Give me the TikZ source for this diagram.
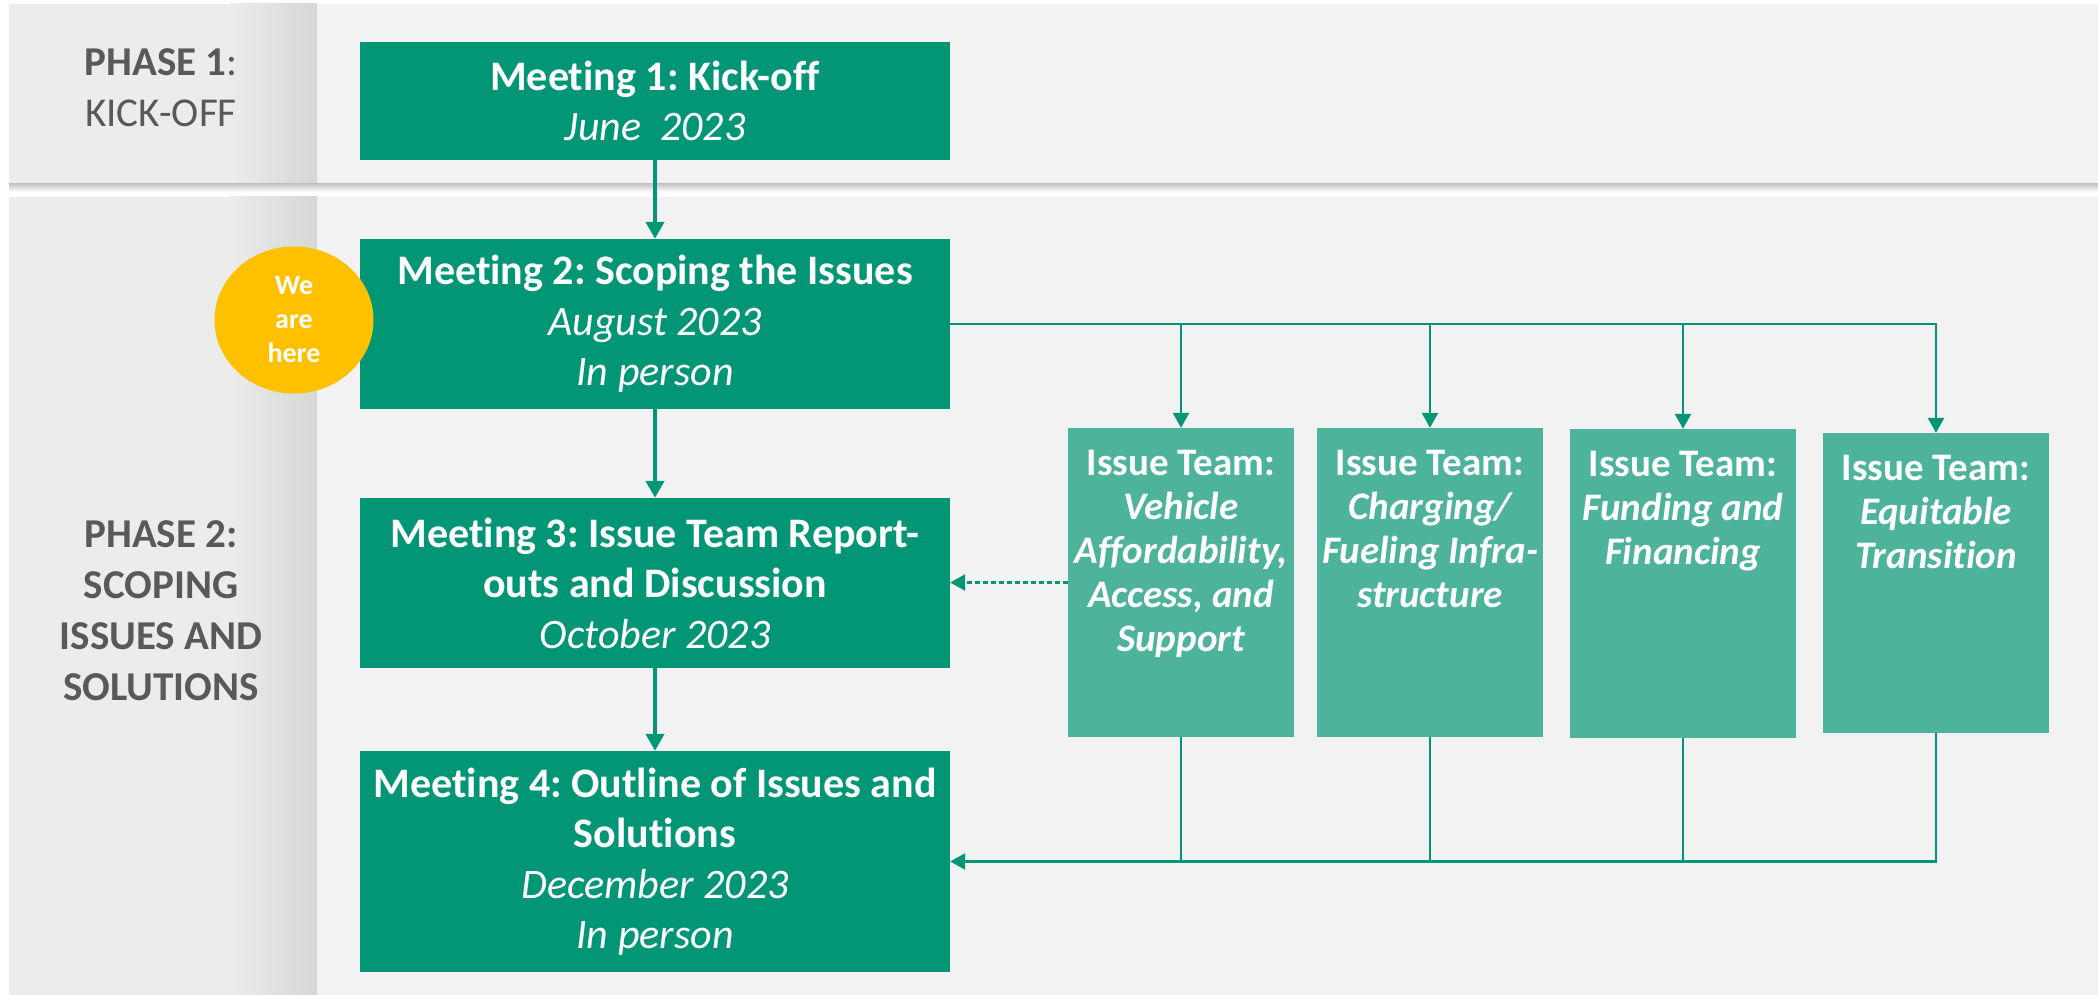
\documentclass[tikz,border=0pt]{standalone}
\usepackage{fontspec}
\setmainfont{Carlito}[Ligatures=NoCommon]
\frenchspacing
\usetikzlibrary{arrows.meta,shapes.geometric}
\definecolor{meetc}{HTML}{039676}
\definecolor{issuec}{HTML}{4DB39B}
\definecolor{herec}{HTML}{FFC000}
\definecolor{bandc}{HTML}{F2F2F2}
\definecolor{sidec}{HTML}{ECECEC}
\definecolor{sidee}{HTML}{D6D6D6}
\definecolor{phasec}{HTML}{595959}
\tikzset{
  meet/.style={fill=meetc, text=white, minimum width=590pt, align=center, inner sep=0pt,
    font=\fontsize{42}{50.5}\selectfont\frenchspacing},
  issue/.style={fill=issuec, minimum width=226pt, inner sep=0pt},
  issuetxt/.style={text=white, align=center, inner sep=0pt, anchor=north,
    font=\fontsize{39}{44}\selectfont\bfseries\frenchspacing},
  phase/.style={text=phasec, align=center, inner sep=0pt,
    font=\fontsize{41}{51}\selectfont\frenchspacing},
  herebox/.style={ellipse, fill=herec, text=white, minimum width=159pt, minimum height=147pt,
    inner sep=0pt, align=center, font=\fontsize{28}{34}\selectfont\bfseries},
  bigflow/.style={draw=meetc, line width=4.5pt, -{Triangle[length=17pt,width=18pt]}},
  flow/.style={draw=meetc, line width=2.5pt, -{Triangle[length=15pt,width=16pt]}},
  link/.style={draw=meetc, line width=2.5pt},
  dashflow/.style={draw=meetc, line width=2.5pt, dash pattern=on 5pt off 3pt,
    -{Triangle[length=15pt,width=16pt]}}
}
\begin{document}
\begin{tikzpicture}[x=1pt,y=-1pt]
\useasboundingbox (0,0) rectangle (2098,995);
\fill[white] (0,0) rectangle (2098,995);
% phase 1 band
\shade[top color=black!25, bottom color=white] (9,183) rectangle (2098,192);
\fill[bandc] (9,4) rectangle (2098,183);
\fill[sidec] (9,4) rectangle (317,183);
\shade[left color=sidec, right color=sidee] (230,4) rectangle (317,183);
% phase 2 band
\fill[bandc] (9,197) rectangle (2098,995);
\fill[sidec] (9,197) rectangle (317,995);
\shade[left color=sidec, right color=sidee] (230,197) rectangle (317,995);

% phase labels
\node[phase] (p1) at (161,88) {\textbf{PHASE 1}:\\KICK-OFF};
\node[phase, font=\fontsize{41}{51}\selectfont\bfseries] (p2) at (161,611) {PHASE 2:\\SCOPING\\ISSUES AND\\SOLUTIONS};

% meetings
\node[meet, minimum height=118pt] (m1) at (655,101) {\textbf{Meeting 1: Kick-off}\\\textit{June\ \ 2023}};
\node[meet, minimum height=170pt] (m2) at (655,324) {\textbf{Meeting 2: Scoping the Issues}\\\textit{August 2023}\\\textit{In person}};
\node[meet, minimum height=170pt] (m3) at (655,583) {\textbf{Meeting 3: Issue Team Report-}\\\textbf{outs and Discussion}\\\textit{October 2023}};
\node[meet, minimum height=221pt] (m4) at (655,861.5) {\textbf{Meeting 4: Outline of Issues and}\\\textbf{Solutions}\\\textit{December 2023}\\\textit{In person}};

% issue teams
\node[issue, minimum height=309pt] (i1) at (1181,582.5) {};
\node[issue, minimum height=309pt] (i2) at (1430,582.5) {};
\node[issue, minimum height=309pt] (i3) at (1683,583.5) {};
\node[issue, minimum height=300pt] (i4) at (1936,583) {};
\node[issuetxt] (i1t) at ([yshift=-22pt]i1.north) {Issue Team:\\\itshape Vehicle\\\itshape Affordability,\\\itshape Access, and\\\itshape Support};
\node[issuetxt] (i2t) at ([yshift=-22pt]i2.north) {Issue Team:\\\itshape Charging/\\\itshape Fueling Infra-\\\itshape structure};
\node[issuetxt] (i3t) at ([yshift=-22pt]i3.north) {Issue Team:\\\itshape Funding and\\\itshape Financing};
\node[issuetxt] (i4t) at ([yshift=-22pt]i4.north) {Issue Team:\\\itshape Equitable\\\itshape Transition};

% we are here
\node[herebox] (here) at (294,320) {We\\are\\here};

% connectors
\draw[bigflow] (m1) -- (m2);
\draw[bigflow] (m2) -- (m3);
\draw[bigflow] (m3) -- (m4);
\draw[flow] (m2.east) -| (i4.north);
\draw[flow] (m2.east -| i1.north) -- (i1.north);
\draw[flow] (m2.east -| i2.north) -- (i2.north);
\draw[flow] (m2.east -| i3.north) -- (i3.north);
\draw[flow] (i4.south) |- (m4.east);
\draw[link] (i1.south) -- (i1.south |- m4.east);
\draw[link] (i2.south) -- (i2.south |- m4.east);
\draw[link] (i3.south) -- (i3.south |- m4.east);
\draw[dashflow] (i1.west) -- (i1.west -| m3.east);
\end{tikzpicture}
\end{document}
